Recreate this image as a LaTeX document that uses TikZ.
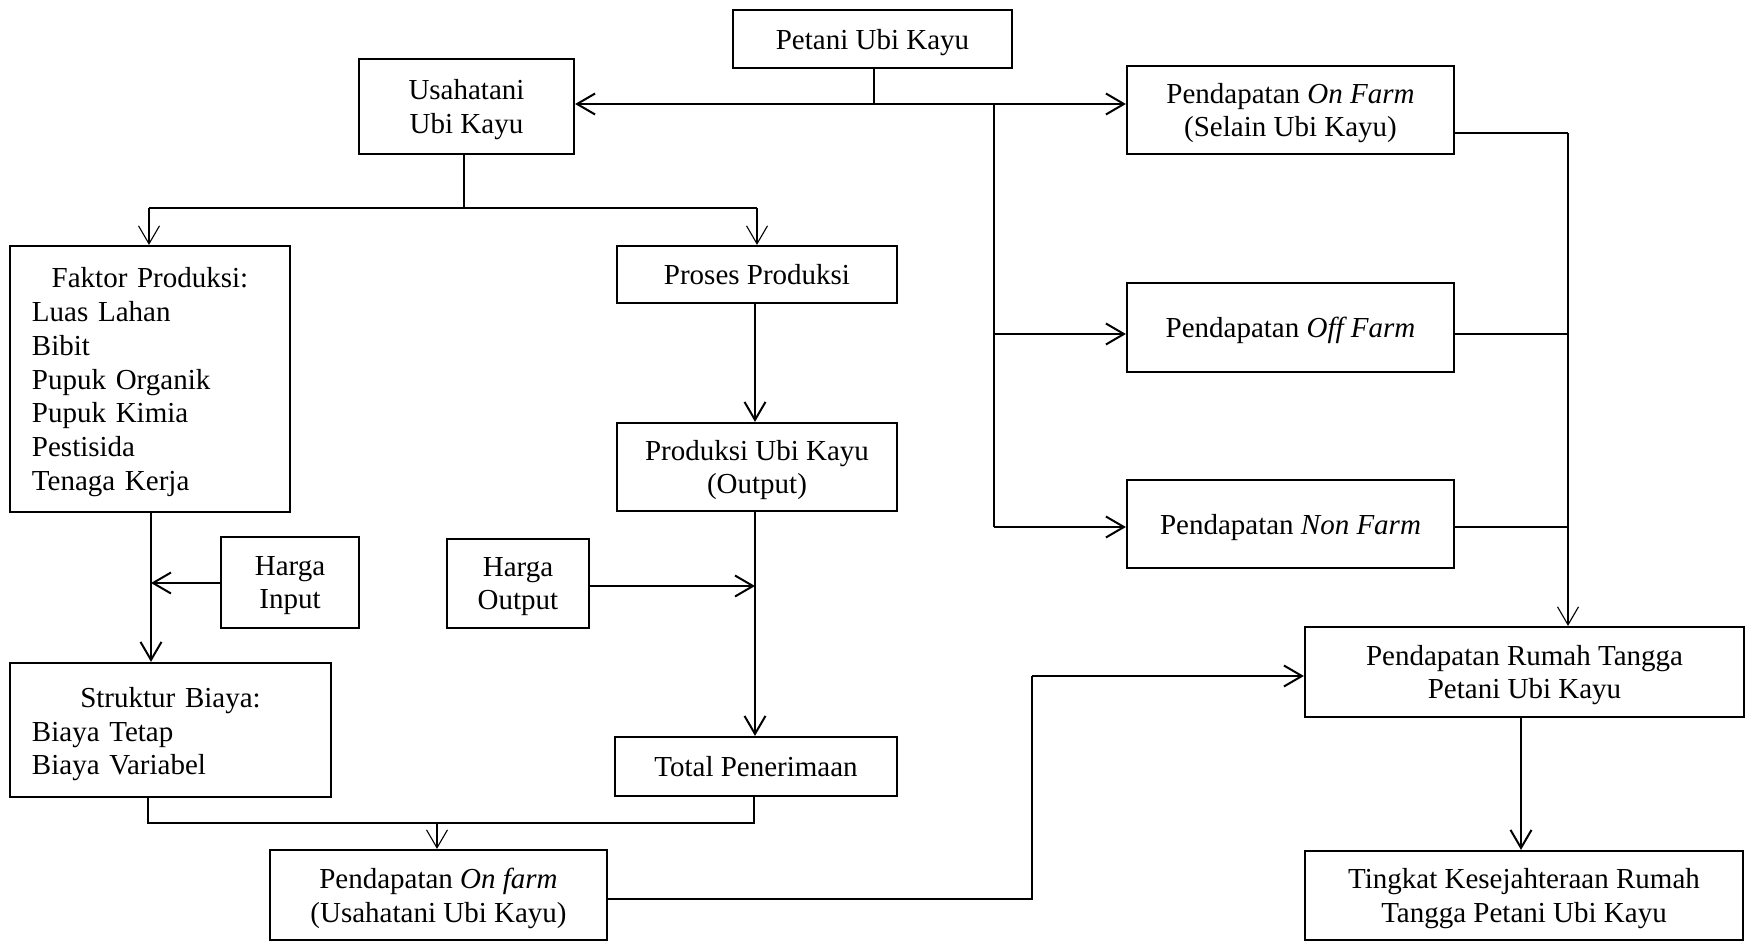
\documentclass[tikz,border=0pt]{standalone}
\usepackage{fontspec}
\setmainfont{Liberation Serif}
\usetikzlibrary{arrows.meta}
\begin{document}
\begin{tikzpicture}[x=0.5pt,y=-0.5pt,
  box/.style={draw,line width=1.1pt,align=center,inner sep=0pt,text depth=0pt,font=\fontsize{14.5pt}{16.9pt}\selectfont},
  listbox/.style={box,text depth={},align=left},
  conn/.style={line width=1pt},
  tline/.style={line width=0.55pt},
  tip/.style={-{Straight Barb[length=9pt,width=10.5pt]}},
  tips/.style={{Straight Barb[length=9pt,width=10.5pt]}-{Straight Barb[length=9pt,width=10.5pt]}}
]
\useasboundingbox (0,0) rectangle (1747,942);

% boxes
\node[box,minimum width=139.5pt,minimum height=29pt] (petani) at (872.5,39) {Petani Ubi Kayu};
\node[box,minimum width=107.5pt,minimum height=47.5pt] (usaha) at (466.5,106.5) {Usahatani\\Ubi Kayu};
\node[box,minimum width=163.5pt,minimum height=44pt] (onfarm) at (1290.5,110) {Pendapatan \textit{On Farm}\\(Selain Ubi Kayu)};
\node[listbox,minimum width=140pt,minimum height=133pt,text width=118pt] (faktor) at (150,379)
  {\rule{0pt}{13.3pt}\makebox[118pt][c]{Faktor Produksi:}\\Luas Lahan\\Bibit\\Pupuk Organik\\Pupuk Kimia\\Pestisida\\Tenaga Kerja};
\node[box,minimum width=140pt,minimum height=28.5pt] (proses) at (757,274.5) {Proses Produksi};
\node[box,minimum width=163.5pt,minimum height=44.5pt] (offfarm) at (1290.5,327.5) {Pendapatan \textit{Off Farm}};
\node[box,minimum width=140pt,minimum height=44pt] (produksi) at (757,467) {Produksi Ubi Kayu\\(Output)};
\node[box,minimum width=163.5pt,minimum height=44pt] (nonfarm) at (1290.5,524) {Pendapatan \textit{Non Farm}};
\node[box,minimum width=69pt,minimum height=45.5pt] (hinput) at (290,582.5) {Harga\\Input};
\node[box,minimum width=71pt,minimum height=44.5pt] (houtput) at (518,583.5) {Harga\\Output};
\node[box,minimum width=219.5pt,minimum height=45pt] (rumah) at (1524.5,672) {Pendapatan Rumah Tangga\\Petani Ubi Kayu};
\node[listbox,minimum width=160.5pt,minimum height=67pt,text width=138.5pt] (struktur) at (170.5,730)
  {\rule{0pt}{14.3pt}\makebox[138.5pt][c]{Struktur Biaya:}\\Biaya Tetap\\Biaya Variabel};
\node[box,minimum width=141pt,minimum height=29.5pt] (total) at (756,766.5) {Total Penerimaan};
\node[box,minimum width=168.5pt,minimum height=45pt] (onfarmu) at (438.5,895) {Pendapatan \textit{On farm}\\(Usahatani Ubi Kayu)};
\node[box,minimum width=219pt,minimum height=44.5pt] (tingkat) at (1524,895.5) {Tingkat Kesejahteraan Rumah\\Tangga Petani Ubi Kayu};

% junction coordinates
\coordinate (j1) at (874,104);
\coordinate (j2) at (994,104);
\coordinate (v1) at (994,334);
\coordinate (v2) at (994,527);
\coordinate (r1) at (1568,133);
\coordinate (r2) at (1568,334);
\coordinate (r3) at (1568,527);
\coordinate (b0) at (464,208);
\coordinate (bl) at (149,208);
\coordinate (br) at (757,208);
\coordinate (f1) at (151,583);
\coordinate (p1) at (755,586);
\coordinate (m0) at (437,823);
\coordinate (m1) at (148,823);
\coordinate (m2) at (754,823);
\coordinate (q1) at (1032,899);
\coordinate (q2) at (1032,676);
\coordinate (t1) at (1521,0);

% top
\draw[tline] (j1 |- petani.south) -- (j1);
\draw[conn,tips] (usaha.east |- j1) -- (onfarm.west |- j1);
\draw[tline] (j2) -- (v2);
\draw[conn,tip] (v1) -- (v1 -| offfarm.west);
\draw[conn,tip] (v2) -- (v2 -| nonfarm.west);

% right side
\draw[tline] (r1 -| onfarm.east) -- (r1);
\draw[tline,tip] (r1) -- (r1 |- rumah.north);
\draw[tline] (r2 -| offfarm.east) -- (r2);
\draw[tline] (r3 -| nonfarm.east) -- (r3);

% usahatani branch
\draw[tline] (b0 |- usaha.south) -- (b0);
\draw[tline] (bl) -- (br);
\draw[tline,tip] (bl) -- (bl |- faktor.north);
\draw[tline,tip] (br) -- (br |- proses.north);

% left column
\draw[conn,tip] (f1 |- faktor.south) -- (f1 |- struktur.north);
\draw[conn,tip] (hinput.west |- f1) -- (f1);

% middle column
\draw[conn,tip] (p1 |- proses.south) -- (p1 |- produksi.north);
\draw[conn,tip] (p1 |- produksi.south) -- (p1 |- total.north);
\draw[conn,tip] (houtput.east |- p1) -- (p1);

% merge
\draw[tline] (m1 |- struktur.south) -- (m1) -- (m2) -- (m2 |- total.south);
\draw[tline,tip] (m0) -- (m0 |- onfarmu.north);

% to household income
\draw[tline] (q1 -| onfarmu.east) -- (q1) -- (q2);
\draw[conn,tip] (q2) -- (q2 -| rumah.west);
\draw[conn,tip] (t1 |- rumah.south) -- (t1 |- tingkat.north);
\end{tikzpicture}
\end{document}
